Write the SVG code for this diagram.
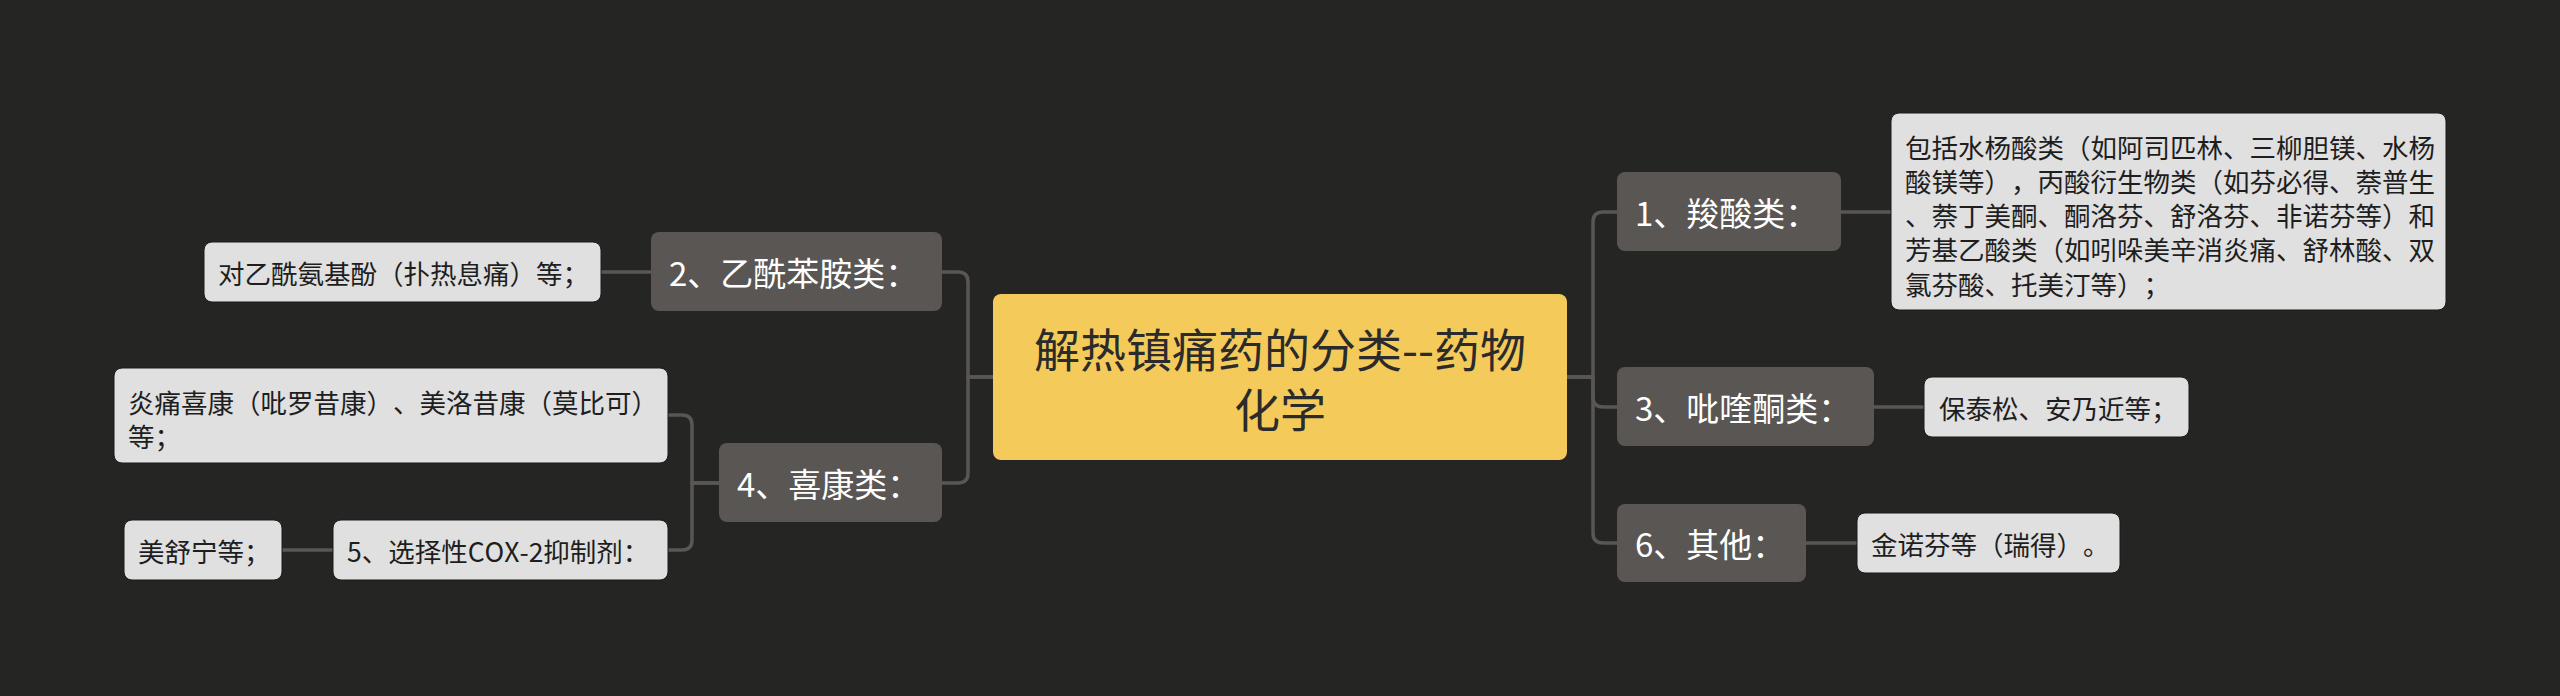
<svg xmlns="http://www.w3.org/2000/svg" width="2560" height="696" viewBox="0 0 2560 696">
<style>
text{font-family:"Noto Sans CJK SC","Noto Sans",sans-serif;dominant-baseline:central;text-spacing-trim:space-all;font-kerning:none}
.bg{fill:#252523}
.root rect{fill:#f4ca5a}
.root text{fill:#2b2b2b;font-size:46px;text-anchor:middle}
.node rect{fill:#5a5653}
.node text{fill:#ffffff;font-size:33px}
.leaf rect{fill:#e0e0e0;stroke:#1a1a1a;stroke-width:1}
.leaf text{fill:#1e1e1e;font-size:26.5px}
#connectors path{fill:none;stroke:#5a5653;stroke-width:3.5}
</style>
<rect class="bg" x="0" y="0" width="2560" height="696"/>
<g id="connectors">
<path d="M993 377 H968 V282 Q968 272 958 272 H942"/>
<path d="M993 377 H968 V473 Q968 483 958 483 H942"/>
<path d="M651 272 H601"/>
<path d="M719 483 H692 V425 Q692 415 682 415 H668"/>
<path d="M719 483 H692 V540 Q692 550 682 550 H668"/>
<path d="M333 550 H282"/>
<path d="M1567 377 H1593 V222 Q1593 212 1603 212 H1617"/>
<path d="M1567 377 H1593 V397 Q1593 407 1603 407 H1617"/>
<path d="M1567 377 H1593 V533 Q1593 543 1603 543 H1617"/>
<path d="M1841 212 H1891"/>
<path d="M1874 407 H1924"/>
<path d="M1806 543 H1857"/>
</g>
<g id="root" class="root">
<rect x="993" y="294" width="574" height="166" rx="8"/>
<text x="1280" y="347">解热镇痛药的分类--药物</text>
<text x="1280" y="407">化学</text>
</g>
<g id="n2" class="node">
<rect x="651" y="232" width="291" height="79" rx="8"/>
<text x="669" y="272">2、乙酰苯胺类：</text>
</g>
<g id="n2a" class="leaf">
<rect x="204" y="242" width="397" height="60" rx="8"/>
<text x="218" y="272">对乙酰氨基酚（扑热息痛）等；</text>
</g>
<g id="n4" class="node">
<rect x="719" y="443" width="223" height="79" rx="8"/>
<text x="737" y="483">4、喜康类：</text>
</g>
<g id="n4a" class="leaf">
<rect x="114" y="368" width="554" height="95" rx="8"/>
<text x="128" y="401">炎痛喜康（吡罗昔康）、美洛昔康（莫比可）</text>
<text x="128" y="435">等；</text>
</g>
<g id="n5" class="leaf">
<rect x="333" y="520" width="335" height="60" rx="8"/>
<text x="347" y="550">5、选择性COX-2抑制剂：</text>
</g>
<g id="n5a" class="leaf">
<rect x="124" y="520" width="158" height="60" rx="8"/>
<text x="138" y="550">美舒宁等；</text>
</g>
<g id="n1" class="node">
<rect x="1617" y="172" width="224" height="79" rx="8"/>
<text x="1635" y="212">1、羧酸类：</text>
</g>
<g id="n1a" class="leaf">
<rect x="1891" y="113" width="555" height="197" rx="8"/>
<text x="1905" y="146.5">包括水杨酸类（如阿司匹林、三柳胆镁、水杨</text>
<text x="1905" y="180.6">酸镁等），丙酸衍生物类（如芬必得、萘普生</text>
<text x="1905" y="214.7">、萘丁美酮、酮洛芬、舒洛芬、非诺芬等）和</text>
<text x="1905" y="248.8">芳基乙酸类（如吲哚美辛消炎痛、舒林酸、双</text>
<text x="1905" y="283">氯芬酸、托美汀等）；</text>
</g>
<g id="n3" class="node">
<rect x="1617" y="367" width="257" height="79" rx="8"/>
<text x="1635" y="407">3、吡喹酮类：</text>
</g>
<g id="n3a" class="leaf">
<rect x="1924" y="377" width="265" height="60" rx="8"/>
<text x="1939" y="407">保泰松、安乃近等；</text>
</g>
<g id="n6" class="node">
<rect x="1617" y="504" width="189" height="78" rx="8"/>
<text x="1635" y="543">6、其他：</text>
</g>
<g id="n6a" class="leaf">
<rect x="1857" y="513" width="263" height="60" rx="8"/>
<text x="1871" y="543">金诺芬等（瑞得）。</text>
</g>
</svg>
